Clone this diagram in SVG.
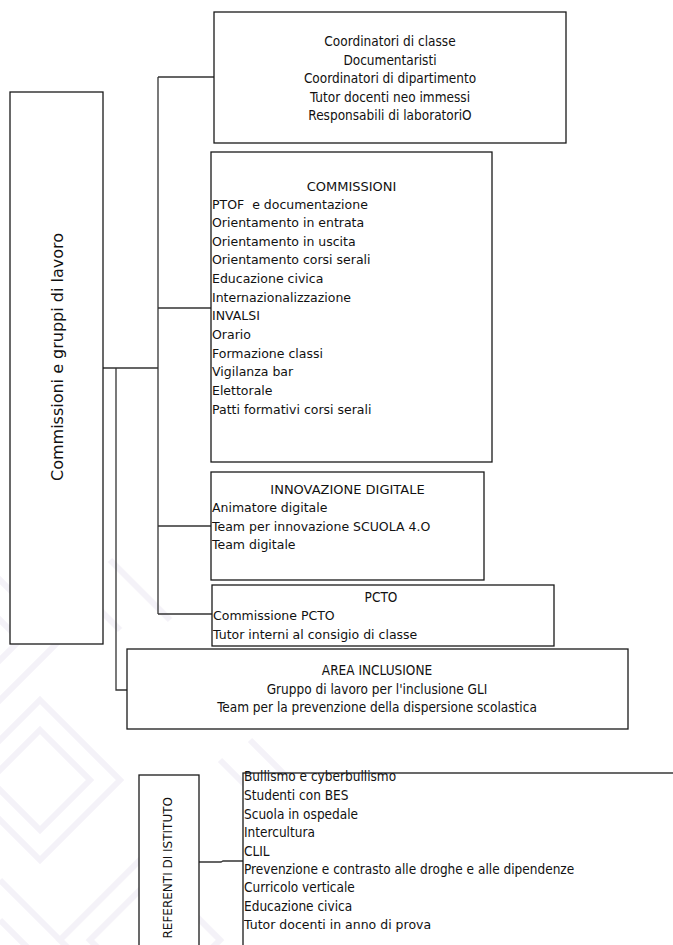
<svg xmlns="http://www.w3.org/2000/svg" width="673" height="945" viewBox="0 0 673 945">
<style>
.box{fill:#fff;stroke:#1a1a1a;stroke-width:1.3}
.con{fill:none;stroke:#333;stroke-width:1.3}
.wm{fill:none;stroke:#f4f2f8;stroke-width:6}
.v{font-family:"DejaVu Sans",Verdana,sans-serif;font-size:12.5px;fill:#111;white-space:pre}
.h{font-size:13px}
.t{font-family:"DejaVu Sans Condensed","DejaVu Sans",sans-serif;font-stretch:condensed;font-size:13.5px;fill:#111}
.c{text-anchor:middle}
</style>
<rect width="673" height="945" fill="#fff"/>
<g id="watermark">
<path class="wm" d="M-20 560 L60 640 L-20 720 M-20 600 L20 640 L-20 680"/>
<path class="wm" d="M40 700 L120 780 L40 860 L-40 780 Z M40 730 L90 780 L40 830 L-10 780 Z"/>
<path class="wm" d="M140 860 L220 940 L140 1020 L60 940 Z M140 890 L190 940 L140 990 L90 940 Z"/>
<path class="wm" d="M0 880 L60 940 M0 920 L30 950"/>
<path class="wm" d="M250 740 L300 790 L250 840 M220 760 L250 790"/>
<path class="wm" d="M110 560 L170 620 M80 590 L120 630"/>
</g>
<g id="connectors">
<path class="con" d="M103 368 H158 M158 77 V614 M158 77 H214 M158 308 H211 M158 526 H211 M158 614 H212"/>
<path class="con" d="M116 368 V690 H127"/>
<path class="con" d="M199 862 H221 L223 861 H243"/>
</g>
<g id="node-commissioni-gruppi">
<rect class="box" x="10" y="92" width="93" height="552"/>
<text class="v" style="font-size:16px" transform="translate(63 357) rotate(-90)" text-anchor="middle">Commissioni e gruppi di lavoro</text>
</g>
<g id="node-coordinatori">
<rect class="box" x="214" y="12" width="352" height="131"/>
<text class="t c" x="390" y="46">Coordinatori di classe</text>
<text class="t c" x="390" y="64.5">Documentaristi</text>
<text class="t c" x="390" y="83">Coordinatori di dipartimento</text>
<text class="t c" x="390" y="101.5">Tutor docenti neo immessi</text>
<text class="t c" x="390" y="120">Responsabili di laboratoriO</text>
</g>
<g id="node-commissioni">
<rect class="box" x="211" y="152" width="281" height="310"/>
<text class="v h c" x="351.5" y="190.5">COMMISSIONI</text>
<text class="v" x="212" y="208.5">PTOF  e documentazione</text>
<text class="v" x="212" y="227.1">Orientamento in entrata</text>
<text class="v" x="212" y="245.8">Orientamento in uscita</text>
<text class="v" x="212" y="264.4">Orientamento corsi serali</text>
<text class="v" x="212" y="283">Educazione civica</text>
<text class="v" x="212" y="301.7">Internazionalizzazione</text>
<text class="v" x="212" y="320.3">INVALSI</text>
<text class="v" x="212" y="338.9">Orario</text>
<text class="v" x="212" y="357.6">Formazione classi</text>
<text class="v" x="212" y="376.2">Vigilanza bar</text>
<text class="v" x="212" y="394.8">Elettorale</text>
<text class="v" x="212" y="413.5">Patti formativi corsi serali</text>
</g>
<g id="node-innovazione">
<rect class="box" x="211" y="472" width="273" height="108"/>
<text class="v h c" x="347.5" y="493.5">INNOVAZIONE DIGITALE</text>
<text class="v" x="212" y="512">Animatore digitale</text>
<text class="v" x="212" y="530.5">Team per innovazione SCUOLA 4.O</text>
<text class="v" x="212" y="549">Team digitale</text>
</g>
<g id="node-pcto">
<rect class="box" x="212" y="585" width="342" height="61"/>
<text class="t c" x="381" y="601.5">PCTO</text>
<text class="v" x="213" y="620">Commissione PCTO</text>
<text class="v" x="213" y="638.5">Tutor interni al consigio di classe</text>
</g>
<g id="node-inclusione">
<rect class="box" x="127" y="649" width="501" height="80"/>
<text class="t c" x="377" y="675">AREA INCLUSIONE</text>
<text class="t c" x="377" y="693.5">Gruppo di lavoro per l'inclusione GLI</text>
<text class="t c" x="377" y="712">Team per la prevenzione della dispersione scolastica</text>
</g>
<g id="node-referenti">
<rect class="box" x="139" y="775" width="60" height="200"/>
<text class="v" style="font-size:12px" transform="translate(172 797) rotate(-90)" text-anchor="end">REFERENTI DI ISTITUTO</text>
</g>
<g id="node-referenti-list">
<rect class="box" x="243" y="773" width="460" height="200"/>
<text class="t" x="244" y="781">Bullismo e cyberbullismo</text>
<text class="t" x="244" y="800">Studenti con BES</text>
<text class="t" x="244" y="818.5">Scuola in ospedale</text>
<text class="t" x="244" y="837">Intercultura</text>
<text class="t" x="244" y="855.5">CLIL</text>
<text class="t" x="244" y="874">Prevenzione e contrasto alle droghe e alle dipendenze</text>
<text class="t" x="244" y="892">Curricolo verticale</text>
<text class="t" x="244" y="910.5">Educazione civica</text>
<text class="v" x="244" y="929">Tutor docenti in anno di prova</text>
</g>
</svg>
